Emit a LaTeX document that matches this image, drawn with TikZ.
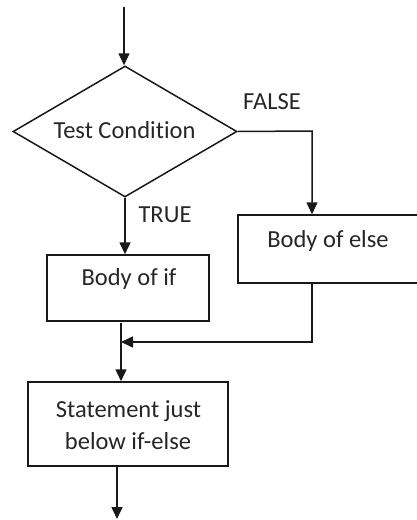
\documentclass[tikz,border=0pt]{standalone}
\usepackage{fontspec}
\setmainfont[Ligatures={NoCommon}]{Carlito}
\usetikzlibrary{shapes.geometric,arrows.meta}

\begin{document}
\begin{tikzpicture}[x=1pt,y=-1pt,
  line/.style={line width=1.5pt, draw=black!90},
  flow/.style={line, -{Triangle[length=12pt,width=11pt]}},
  box/.style={line, rectangle, inner sep=0pt},
  decision/.style={line, diamond, inner sep=0pt, aspect=1.71},
  txt/.style={inner sep=0pt, anchor=base, text=black!85, font=\fontsize{24.5}{29}\selectfont}]

\useasboundingbox (0,0) rectangle (417,520);

% decision
\node[decision, minimum width=224pt, minimum height=131pt] (dia) at (125,131.5) {};
\node[txt] (diatext) at (124.5,138) {Test Condition};

% branch boxes
\node[box, minimum width=162pt, minimum height=66pt] (ifbox) at (128,288) {};
\node[txt] (iftext) at (129,285.7) {Body of if};
\node[box, minimum width=187pt, minimum height=68pt] (elsebox) at (331.5,249) {};
\node[txt] (elsetext) at (328,247.3) {Body of else};

% statement after the if-else
\node[box, minimum width=200pt, minimum height=84pt] (stmt) at (128,424) {};
\node[txt] (stmttop) at (128.5,417.3) {Statement just};
\node[txt] (stmtbot) at (128,449) {below if-else};

% branch labels
\node[txt] (falselbl) at (272,109) {FALSE};
\node[txt] (truelbl) at (165,222.3) {TRUE};

% helper points
\coordinate (start) at (124,7);
\coordinate (fcorner) at (312,131);
\coordinate (ifout) at (121,323);
\coordinate (merge) at (121,342);
\coordinate (stmtout) at (117,466);
\coordinate (finish) at (117,519);

% connectors
\draw[flow] (start) -- (start |- dia.north);
\draw[flow] (dia.east) -- (fcorner) -- (fcorner |- elsebox.north);
\draw[flow] (dia.south) -- (dia.south |- ifbox.north);
\draw[flow] (ifout) -- (ifout |- stmt.north);
\draw[flow] (fcorner |- elsebox.south) |- (merge);
\draw[flow] (stmtout) -- (finish);
\end{tikzpicture}
\end{document}
